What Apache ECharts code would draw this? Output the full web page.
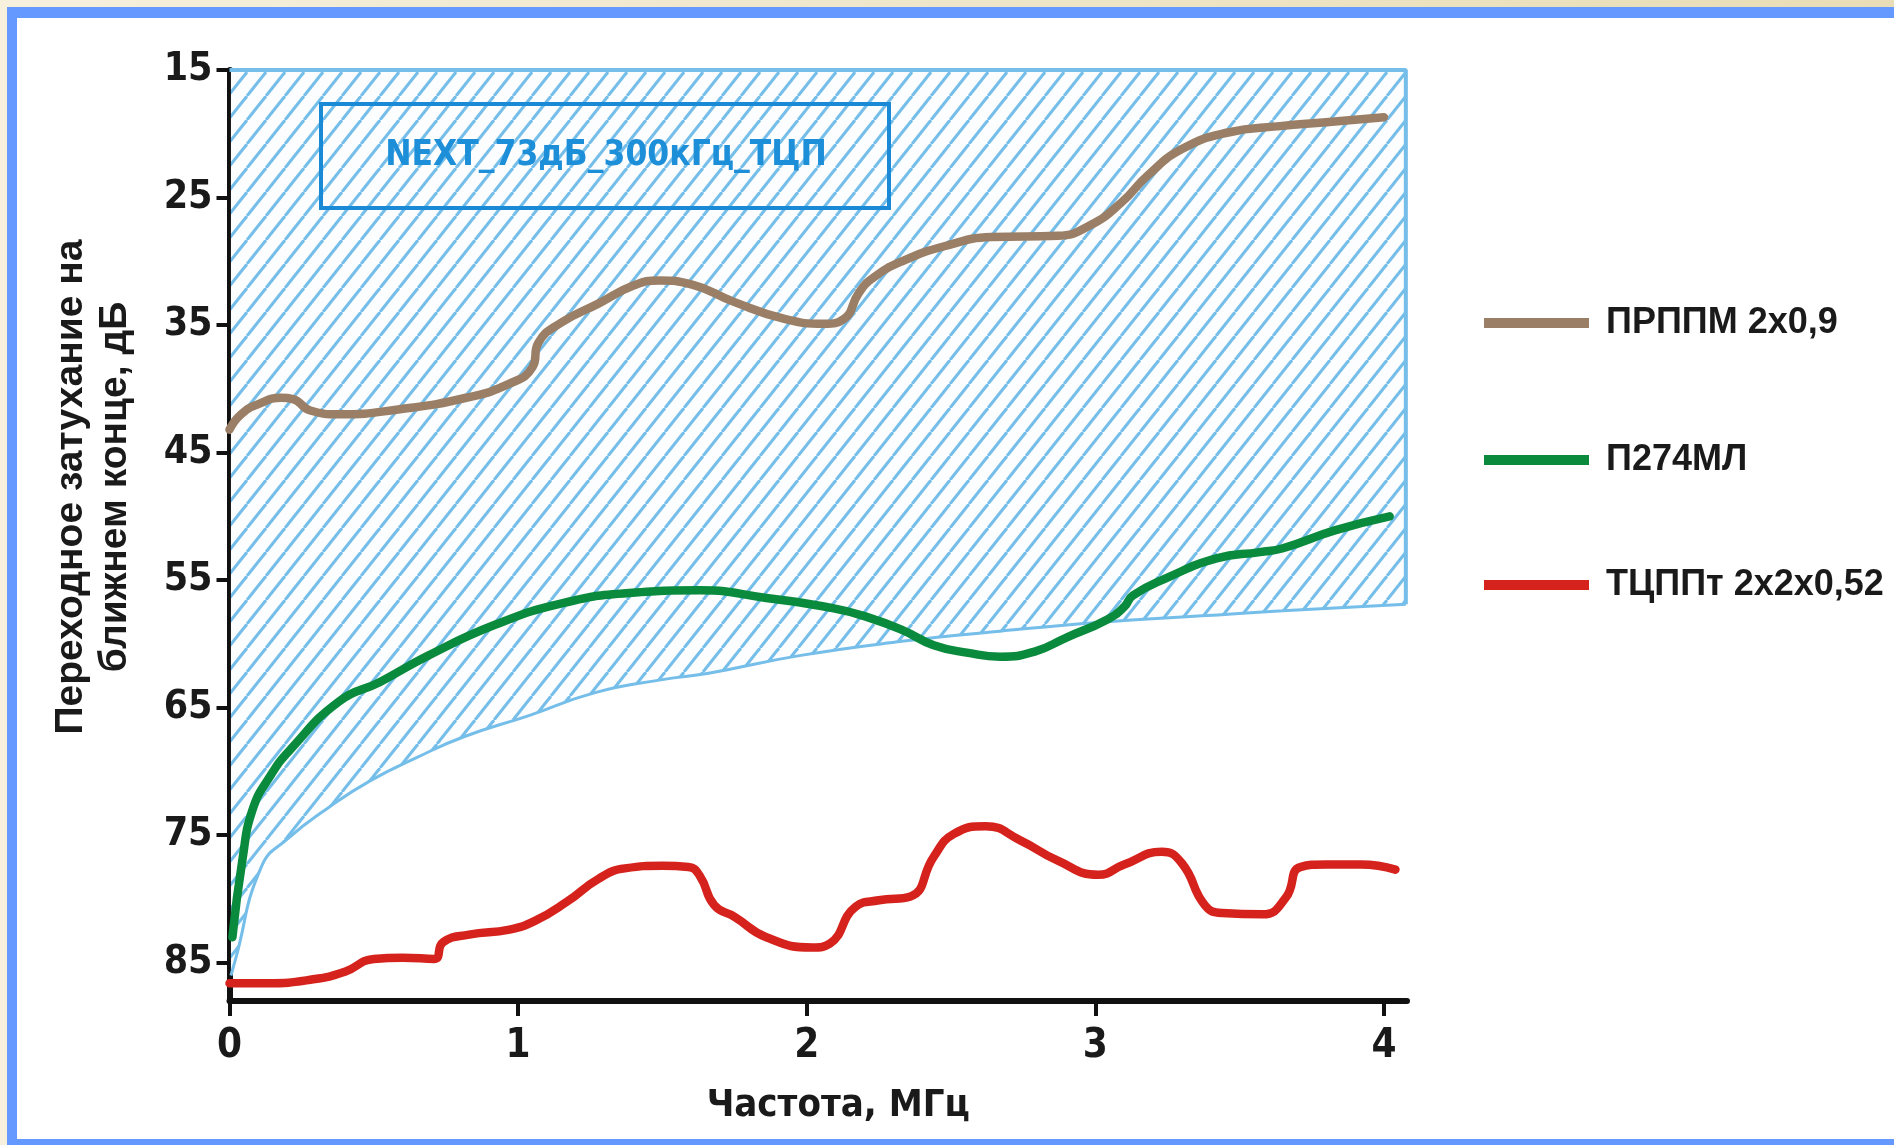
<!DOCTYPE html>
<html><head><meta charset="utf-8">
<script src="https://cdn.jsdelivr.net/npm/echarts@6/dist/echarts.min.js"></script>
<style>html,body{margin:0;padding:0;width:1894px;height:1145px;overflow:hidden;background:#fff}#c{width:1894px;height:1145px}</style>
</head><body><div id="c"></div>
<script>
// ---- data (frequency MHz, attenuation dB) ----
const freqTicks = [0, 1, 2, 3, 4];
const attTicks = [15, 25, 35, 45, 55, 65, 75, 85];
const seriesNames = ['ПРППМ 2х0,9', 'П274МЛ', 'ТЦППт 2х2х0,52'];
const limitLabel = 'NEXT_73дБ_300кГц_ТЦП';
const xTitle = 'Частота, МГц';
const yTitle = 'Переходное затухание на\nближнем конце, дБ';

const prppm = [[0,43.2],[0.04,42],[0.1,41.2],[0.18,40.7],[0.22,40.8],[0.28,41.7],[0.38,42],[0.59,41.6],[0.82,40.7],[0.97,39.6],[1.05,38.3],[1.07,36.4],[1.15,34.8],[1.28,33.3],[1.40,31.9],[1.49,31.5],[1.60,31.8],[1.75,33.2],[1.92,34.5],[2.06,34.9],[2.13,34.5],[2.18,32.5],[2.23,31.3],[2.33,30.0],[2.48,28.8],[2.64,28.1],[2.87,28],[2.98,27.2],[3.09,25.4],[3.18,23.3],[3.30,21.2],[3.46,19.9],[3.64,19.4],[3.80,19.1],[4.0,18.7]];
const p274 = [[0.01,83],[0.045,76.9],[0.08,73],[0.14,70.4],[0.21,68.3],[0.38,64.5],[0.52,63],[0.69,60.9],[0.92,58.5],[1.155,56.8],[1.385,56],[1.63,55.8],[1.86,56.4],[2.09,57.2],[2.21,57.9],[2.33,58.9],[2.44,60.1],[2.56,60.7],[2.67,61],[2.79,60.6],[2.90,59.5],[3.04,58.1],[3.10,57.1],[3.13,56.2],[3.25,54.8],[3.42,53.3],[3.57,52.8],[3.65,52.5],[3.83,51.1],[4.02,50]];
const tcppt = [[0,86.6],[0.13,86.6],[0.29,86.3],[0.4,85.7],[0.5,84.7],[0.6,84.6],[0.71,84.7],[0.74,83.4],[0.83,82.8],[0.97,82.4],[1.06,81.7],[1.17,80.2],[1.28,78.4],[1.37,77.6],[1.5,77.4],[1.59,77.5],[1.63,78.2],[1.68,80.5],[1.75,81.4],[1.86,83],[2.02,83.8],[2.08,83.5],[2.17,80.6],[2.25,80.1],[2.36,79.8],[2.44,76.7],[2.51,74.9],[2.62,74.3],[2.74,75.4],[2.87,77],[3.01,78.1],[3.10,77.3],[3.23,76.3],[3.30,77.2],[3.38,80.5],[3.44,81.1],[3.58,81.2],[3.66,79.9],[3.71,77.5],[3.80,77.3],[3.92,77.3],[4.04,77.7]];
// lower edge of the hatched NEXT limit zone; the zone is filled up to 15 dB
const nextLower = [[0.005,86],[0.02,84.8],[0.11,77.5],[0.2,75.3],[0.345,72.8],[0.49,70.7],[0.65,68.9],[0.81,67.3],[1.04,65.6],[1.27,63.8],[1.50,62.8],[1.66,62.3],[1.98,60.9],[2.33,59.8],[2.67,59],[3.02,58.3],[3.37,57.8],[3.65,57.4],[4.076,56.9]];
const nextEdge = [[0,15],[4.076,15],[4.076,56.9]];

const colors = ['#9a7f66', '#0a8a3c', '#d6221c'];
const hatchBlue = '#74bee9';

function hatch(){
  const W = 19, H = 24;
  const c = document.createElement('canvas'); c.width = W; c.height = H;
  const g = c.getContext('2d');
  g.fillStyle = '#fcfdfe'; g.fillRect(0, 0, W, H);
  g.strokeStyle = hatchBlue; g.lineWidth = 3;
  for (let k = -1; k <= 1; k++) { g.beginPath(); g.moveTo(k*W, H); g.lineTo(k*W + W, 0); g.stroke(); }
  return c;
}

const chart = echarts.init(document.getElementById('c'), null, {renderer: 'canvas'});
const boldFont = 'Liberation Sans';
const narrowFont = "'Liberation Sans Narrow', 'Arial Narrow', 'DejaVu Sans Condensed', sans-serif";

function lineSeries(name, data, color){
  return {type: 'line', name: name, data: data, symbol: 'none', smooth: 0.5,
    lineStyle: {color: color, width: 8.5, cap: 'round', join: 'round'}, itemStyle: {color: color}, z: 5, silent: true};
}
function legendAt(name, top){
  return {data: [name], left: 1479, top: top, orient: 'vertical', icon: 'rect', itemWidth: 105, itemHeight: 10,
    itemGap: 0, selectedMode: false,
    textStyle: {fontFamily: boldFont, fontWeight: 'bold', fontSize: 36, color: '#1a1a1a', padding: [0, 0, 0, 12]}};
}

chart.setOption({
  animation: false,
  backgroundColor: '#ffffff',
  grid: {left: 229.5, right: 487, top: 70, bottom: 144, containLabel: false},
  xAxis: {type: 'value', min: 0, max: 4.08,
    name: xTitle, nameLocation: 'middle', nameGap: 86,
    nameTextStyle: {fontFamily: narrowFont, fontWeight: 'bold', fontSize: 38, color: '#1a1a1a', padding: [0, 0, 0, 40]},
    axisLine: {show: true, onZero: false, lineStyle: {color: '#111', width: 6}},
    axisTick: {show: true, length: 15, lineStyle: {color: '#111', width: 4}, customValues: freqTicks},
    axisLabel: {margin: 26, fontFamily: narrowFont, fontWeight: 'bold', fontSize: 40, color: '#1a1a1a', customValues: freqTicks},
    splitLine: {show: false}},
  yAxis: {type: 'value', min: 15, max: 88, inverse: true,
    axisLine: {show: true, onZero: false, lineStyle: {color: '#111', width: 6}},
    axisTick: {show: true, length: 13, lineStyle: {color: '#111', width: 4}, customValues: attTicks},
    axisLabel: {margin: 17, fontFamily: narrowFont, fontWeight: 'bold', fontSize: 39, color: '#1a1a1a', customValues: attTicks},
    splitLine: {show: false}},
  legend: [legendAt(seriesNames[0], 300), legendAt(seriesNames[1], 437), legendAt(seriesNames[2], 562)],
  series: [
    {type: 'line', name: 'NEXT', data: nextLower, symbol: 'none', smooth: 0.5,
      lineStyle: {color: hatchBlue, width: 3},
      areaStyle: {origin: 'start', opacity: 1, color: {image: hatch(), repeat: 'repeat'}}, z: 1, silent: true},
    {type: 'line', name: 'NEXT edge', data: nextEdge, symbol: 'none', lineStyle: {color: hatchBlue, width: 4}, z: 1, silent: true},
    lineSeries(seriesNames[0], prppm, colors[0]),
    lineSeries(seriesNames[1], p274, colors[1]),
    lineSeries(seriesNames[2], tcppt, colors[2])
  ],
  graphic: [
    {type: 'rect', z: -100, shape: {x: 0, y: 0, width: 1894, height: 1145},
      style: {fill: {type: 'linear', x: 0, y: 0, x2: 1, y2: 0, colorStops: [{offset: 0, color: '#f6f0dd'}, {offset: 1, color: '#e8ddb6'}]}}},
    {type: 'rect', z: -99, shape: {x: 7, y: 7, width: 1887, height: 1138}, style: {fill: '#6699ff'}},
    {type: 'rect', z: -98, shape: {x: 17, y: 18, width: 1877, height: 1121}, style: {fill: '#ffffff'}},
    {type: 'rect', z: 10, shape: {x: 321, y: 104, width: 568, height: 104}, style: {fill: 'none', stroke: '#1a8ad6', lineWidth: 4}},
    {type: 'text', z: 11, x: 606, y: 156, style: {text: limitLabel, fill: '#1d8fd9', font: "bold 35px " + narrowFont, textAlign: 'center', textVerticalAlign: 'middle'}},
    {type: 'text', z: 11, x: 93, y: 487, rotation: Math.PI / 2,
      style: {text: yTitle, fill: '#1a1a1a', font: "bold 39px " + boldFont, textAlign: 'center', textVerticalAlign: 'middle', lineHeight: 44}}
  ]
});
</script></body></html>
